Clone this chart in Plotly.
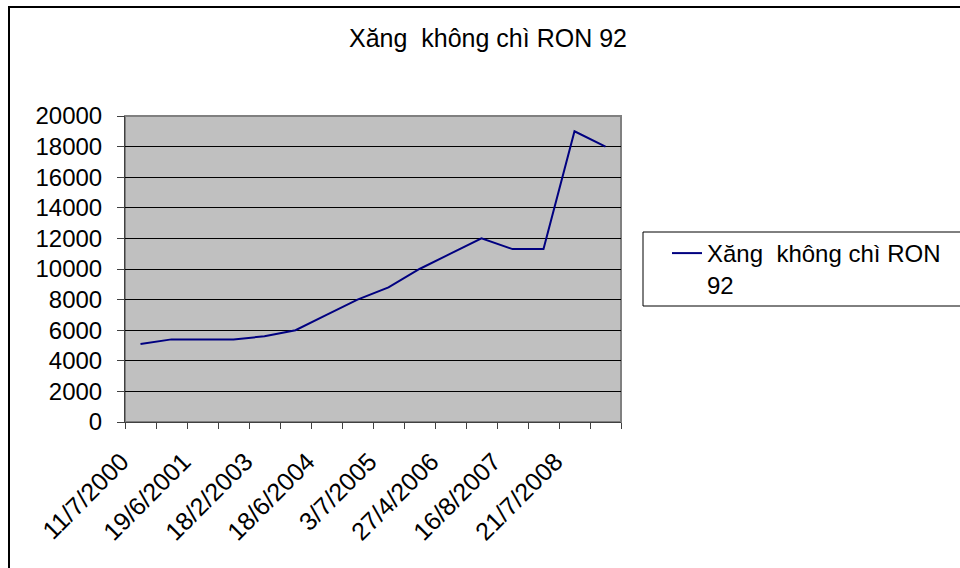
import plotly.graph_objects as go

# Retail price of unleaded RON 92 petrol (VND per litre) at successive price changes
series_name = "Xăng\u00a0 không chì RON 92"
legend_label = "Xăng\u00a0 không chì RON<br>92"
prices = [5100, 5400, 5400, 5400, 5600, 6000, 7000, 8000,
          8800, 10000, 11000, 12000, 11300, 11300, 19000, 18000]
# Dates shown under every second price point
date_labels = ["11/7/2000", "19/6/2001", "18/2/2003", "18/6/2004",
               "3/7/2005", "27/4/2006", "16/8/2007", "21/7/2008"]
y_ticks = list(range(0, 20001, 2000))

positions = list(range(len(prices)))
label_positions = positions[::2]

FONT = "Liberation Sans, Arial, sans-serif"
W, H = 960, 568
ML, MR, MT, MB = 125, 339, 116, 146
pw, ph = W - ML - MR, H - MT - MB


def px_x(px):
    return (px - ML) / pw


def px_y(px):
    return (H - MB - px) / ph


fig = go.Figure()
fig.add_trace(go.Scatter(
    x=positions, y=prices, mode="lines", name=legend_label,
    line=dict(color="#000080", width=2),
))

fig.update_layout(
    width=W, height=H,
    margin=dict(l=ML, r=MR, t=MT, b=MB),
    paper_bgcolor="white",
    plot_bgcolor="#C0C0C0",
    font=dict(family=FONT, size=24, color="black"),
    title=dict(text=series_name, x=488 / W, xanchor="center",
               y=1 - 38.5 / H, yanchor="middle", yref="container",
               font=dict(family=FONT, size=25, color="black")),
    showlegend=True,
    legend=dict(x=px_x(667), y=px_y(231), xanchor="left", yanchor="top",
                bgcolor="rgba(0,0,0,0)", borderwidth=0, valign="top",
                font=dict(family=FONT, size=24, color="black")),
    xaxis=dict(
        range=[-0.5, len(prices) - 0.5],
        tickmode="array", tickvals=label_positions, ticktext=date_labels,
        tickangle=-45, ticks="", showgrid=False, zeroline=False,
        ticklabelstandoff=14, ticklabelshift=-19,
        showline=True, linecolor="#404040", linewidth=1,
        minor=dict(tick0=-0.5, dtick=1, ticks="outside", ticklen=6,
                   tickcolor="#404040", tickwidth=1, showgrid=False),
        tickfont=dict(family=FONT, size=25, color="black"),
    ),
    yaxis=dict(
        range=[0, 20000], tickmode="array", tickvals=y_ticks,
        ticktext=[str(v) for v in y_ticks],
        ticks="outside", ticklen=7, tickcolor="#404040",
        ticklabelstandoff=10,
        showgrid=True, gridcolor="black", gridwidth=1, zeroline=False,
        showline=True, linecolor="#404040", linewidth=1,
        tickfont=dict(family=FONT, size=24, color="black"),
    ),
    shapes=[
        # plot area frame
        dict(type="rect", xref="paper", yref="paper", x0=0, x1=1, y0=0, y1=1,
             line=dict(color="#808080", width=2), layer="below"),
        # chart outer border
        dict(type="rect", xref="paper", yref="paper",
             x0=px_x(9), x1=px_x(W + 20), y0=px_y(H + 20), y1=px_y(7),
             line=dict(color="black", width=2), fillcolor="rgba(0,0,0,0)"),
        # legend box
        dict(type="rect", xref="paper", yref="paper",
             x0=px_x(643), x1=px_x(W + 20), y0=px_y(306), y1=px_y(232),
             line=dict(color="black", width=1), fillcolor="white",
             layer="below"),
    ],
)

fig.write_html("out.html")
